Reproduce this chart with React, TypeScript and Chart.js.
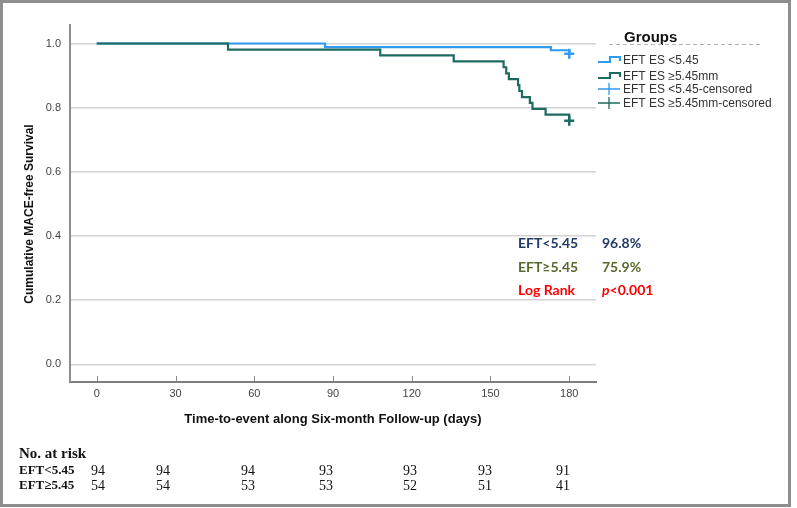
import React, { useEffect, useRef } from 'react';
import { Chart, registerables } from 'chart.js';

Chart.register(...registerables);

// ---- data ----
const timeLow = [0, 87, 173, 180];
const survLow = [1.0, 0.989, 0.979, 0.968];
const timeHigh = [0, 50, 108, 136, 155, 156, 157, 160.5, 161, 162, 165, 166, 171, 180];
const survHigh = [1.0, 0.981, 0.963, 0.944, 0.926, 0.907, 0.889, 0.87, 0.852, 0.833, 0.815, 0.796, 0.778, 0.759];
const censorTimeLow = [180];
const censorSurvLow = [0.968];
const censorTimeHigh = [180];
const censorSurvHigh = [0.759];

const xTickValues = [0, 30, 60, 90, 120, 150, 180];
const yTickValues = [0, 0.2, 0.4, 0.6, 0.8, 1.0];

const legendLabels = ['EFT ES <5.45', 'EFT ES \u22655.45mm', 'EFT ES <5.45-censored', 'EFT ES \u22655.45mm-censored'];
const legendTitle = 'Groups';

const annotationGroups = ['EFT<5.45', 'EFT\u22655.45', 'Log Rank'];
const annotationValues = ['96.8%', '75.9%', '<0.001'];

const riskTitle = 'No. at risk';
const riskRowLabels = ['EFT<5.45', 'EFT\u22655.45'];
const riskLow = [94, 94, 94, 93, 93, 93, 91];
const riskHigh = [54, 54, 53, 53, 52, 51, 41];

const xTitle = 'Time-to-event along Six-month Follow-up (days)';
const yTitle = 'Cumulative MACE-free Survival';

// ---- styles ----
const BLUE = '#2f9af0';
const GREEN = '#1d6a5e';
const SANS = 'Arial, "Liberation Sans", sans-serif';
const SERIF = '"Times New Roman", "Liberation Serif", serif';
const CAL = 'Lato, Carlito, "Open Sans", sans-serif';

const toPts = (xs: number[], ys: number[]) => xs.map((x, i) => ({ x, y: ys[i] }));

export default function App() {
  const ref = useRef<HTMLCanvasElement>(null);

  useEffect(() => {
    const canvas = ref.current;
    if (!canvas) return;

    const overlay = {
      id: 'overlay',
      afterDraw(chart: any) {
        const ctx: CanvasRenderingContext2D = chart.ctx;
        const xs = chart.scales.x;
        const area = chart.chartArea;
        ctx.save();

        // inward tick marks on x axis
        ctx.strokeStyle = '#8a8a8a';
        ctx.lineWidth = 1;
        xTickValues.forEach((v) => {
          const px = Math.round(xs.getPixelForValue(v)) + 0.5;
          ctx.beginPath();
          ctx.moveTo(px, area.bottom - 6);
          ctx.lineTo(px, area.bottom);
          ctx.stroke();
        });

        // axis titles
        ctx.fillStyle = '#111';
        ctx.font = `bold 13px ${SANS}`;
        ctx.textAlign = 'center';
        ctx.textBaseline = 'middle';
        ctx.fillText(xTitle, 333, 419);

        ctx.save();
        ctx.translate(30, 214);
        ctx.rotate(-Math.PI / 2);
        ctx.font = `bold 12px ${SANS}`;
        ctx.fillText(yTitle, 0, 0);
        ctx.restore();

        // legend
        ctx.textAlign = 'left';
        ctx.fillStyle = '#111';
        ctx.font = `bold 15px ${SANS}`;
        ctx.fillText(legendTitle, 624, 38);
        ctx.strokeStyle = '#b5b5b5';
        ctx.lineWidth = 1;
        ctx.setLineDash([4, 3]);
        ctx.beginPath();
        ctx.moveTo(609, 44.5);
        ctx.lineTo(760, 44.5);
        ctx.stroke();
        ctx.setLineDash([]);

        const itemY = [60, 76, 89, 103];
        const colors = [BLUE, GREEN, BLUE, GREEN];
        itemY.forEach((y, i) => {
          ctx.strokeStyle = colors[i];
          if (i < 2) {
            ctx.lineWidth = 2.2;
            ctx.beginPath();
            ctx.moveTo(598, y + 2);
            ctx.lineTo(610, y + 2);
            ctx.lineTo(610, y - 3);
            ctx.lineTo(620, y - 3);
            ctx.lineTo(620, y + 1);
            ctx.stroke();
          } else {
            ctx.lineWidth = 1.3;
            ctx.beginPath();
            ctx.moveTo(598, y);
            ctx.lineTo(620, y);
            ctx.moveTo(609, y - 6);
            ctx.lineTo(609, y + 6);
            ctx.stroke();
          }
          ctx.fillStyle = '#333';
          ctx.font = `12px ${SANS}`;
          ctx.fillText(legendLabels[i], 623, y + 1);
        });

        // annotation block
        const annY = [243, 267, 290];
        const annColors = ['#213b66', '#566a2c', '#ff0000'];
        annY.forEach((y, i) => {
          ctx.fillStyle = annColors[i];
          ctx.font = `bold 14px ${CAL}`;
          ctx.fillText(annotationGroups[i], 518, y);
          if (i === 2) {
            ctx.font = `italic bold 14px ${CAL}`;
            ctx.fillText('p', 602, y);
            const w = ctx.measureText('p').width;
            ctx.font = `bold 14px ${CAL}`;
            ctx.fillText(annotationValues[i], 602 + w, y);
          } else {
            ctx.fillText(annotationValues[i], 602, y);
          }
        });

        // number at risk table
        ctx.fillStyle = '#111';
        ctx.font = `bold 15px ${SERIF}`;
        ctx.fillText(riskTitle, 19, 454);
        ctx.font = `bold 13px ${SERIF}`;
        ctx.fillText(riskRowLabels[0], 19, 471);
        ctx.fillText(riskRowLabels[1], 19, 486);
        const colX = [98, 163, 248, 326, 410, 485, 563];
        ctx.font = `14px ${SERIF}`;
        ctx.textAlign = 'center';
        riskLow.forEach((v, i) => ctx.fillText(String(v), colX[i], 471));
        riskHigh.forEach((v, i) => ctx.fillText(String(v), colX[i], 486));

        ctx.restore();
      },
    };

    const chart = new Chart(canvas, {
      type: 'scatter',
      data: {
        datasets: [
          {
            label: legendLabels[1],
            data: toPts(timeHigh, survHigh),
            showLine: true,
            stepped: true,
            borderColor: GREEN,
            borderWidth: 2.2,
            pointRadius: 0,
            order: 1,
          },
          {
            label: legendLabels[0],
            data: toPts(timeLow, survLow),
            showLine: true,
            stepped: true,
            borderColor: BLUE,
            borderWidth: 2.2,
            pointRadius: 0,
            order: 2,
          },
          {
            label: legendLabels[3],
            data: toPts(censorTimeHigh, censorSurvHigh),
            showLine: false,
            pointStyle: 'cross',
            pointRadius: 5,
            borderColor: GREEN,
            pointBorderWidth: 2.5,
            order: 0,
          },
          {
            label: legendLabels[2],
            data: toPts(censorTimeLow, censorSurvLow),
            showLine: false,
            pointStyle: 'cross',
            pointRadius: 5,
            borderColor: BLUE,
            pointBorderWidth: 2.5,
            order: 0,
          },
        ],
      },
      options: {
        animation: false,
        responsive: false,
        events: [],
        layout: { padding: { left: 30, right: 201, top: 25, bottom: 100 } },
        plugins: { legend: { display: false }, tooltip: { enabled: false }, title: { display: false } },
        scales: {
          x: {
            type: 'linear',
            min: -10.2,
            max: 190.2,
            afterBuildTicks: (s: any) => {
              s.ticks = xTickValues.map((v) => ({ value: v }));
            },
            afterFit: (s: any) => {
              s.height = 26;
            },
            grid: { display: false, drawTicks: false },
            border: { display: true, color: '#7d7d7d', width: 2 },
            ticks: { color: '#444', font: { family: SANS, size: 11 }, padding: 5, maxRotation: 0, autoSkip: false },
          },
          y: {
            type: 'linear',
            min: -0.0552,
            max: 1.0577,
            afterBuildTicks: (s: any) => {
              s.ticks = yTickValues.map((v) => ({ value: v }));
            },
            afterFit: (s: any) => {
              s.width = 40;
            },
            grid: { display: true, color: '#d2d2d2', lineWidth: 1.5, drawTicks: false },
            border: { display: true, color: '#8d8d8d', width: 2 },
            ticks: {
              color: '#444',
              font: { family: SANS, size: 11 },
              padding: 9,
              callback: (v: any) => Number(v).toFixed(1),
            },
          },
        },
      },
      plugins: [overlay],
    });

    return () => chart.destroy();
  }, []);

  return (
    <div style={{ position: 'absolute', left: 0, top: 0, width: 797, height: 508, background: '#fff', overflow: 'hidden' }}>
      <canvas ref={ref} width={797} height={508} style={{ position: 'absolute', left: 0, top: 0, width: 797, height: 508 }} />
      <div
        style={{
          position: 'absolute',
          left: 0,
          top: 0,
          width: 791,
          height: 507,
          border: '3px solid #8e8e8e',
          boxSizing: 'border-box',
          pointerEvents: 'none',
        }}
      />
    </div>
  );
}
